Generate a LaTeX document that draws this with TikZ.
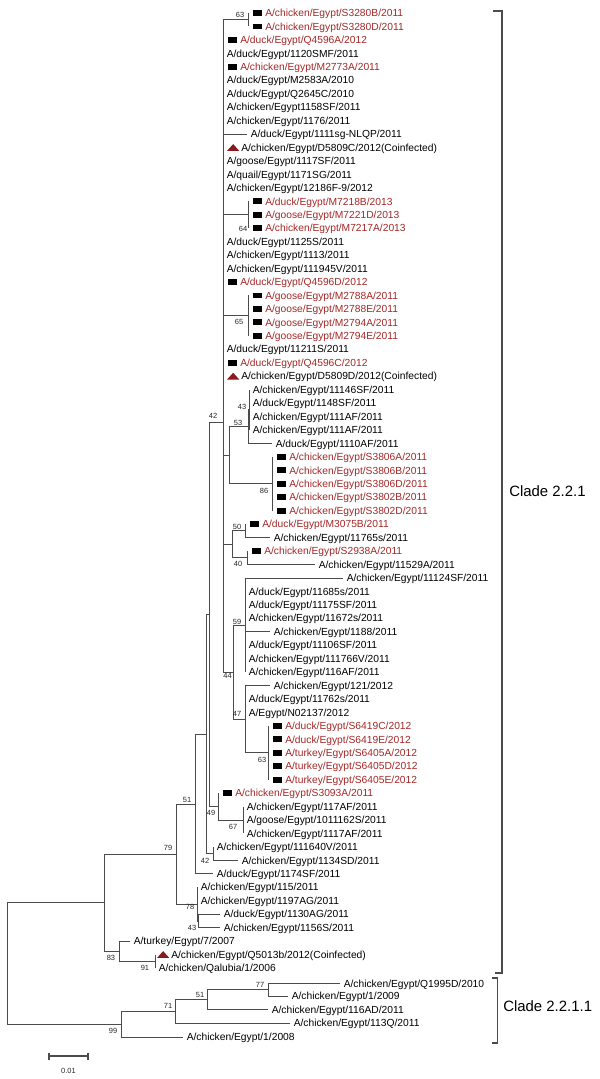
\documentclass[tikz,border=0pt]{standalone}
\usepackage{fontspec}
\setmainfont{Liberation Sans}
\definecolor{cRed}{RGB}{165,40,40}
\definecolor{cTri}{RGB}{140,25,30}
\definecolor{cLine}{RGB}{75,75,75}
\newcommand\lfont{\fontsize{7.7pt}{9pt}\selectfont}
\newcommand\bfontx{\fontsize{5.6pt}{6.5pt}\selectfont}
\newcommand\cfont{\fontsize{11.2pt}{13pt}\selectfont}
\newcommand\RY[1]{(13+13.45*(#1-1))}
% plain leaf
\newcommand\Lf[5]{\coordinate (e#2) at ({#4},{#3});
  \node[lf] (t#2) at ({#4+3.5},{#3+3.7}) {#5};
  \draw[br] (#1) |- (e#2);}
% red leaf with black square
\newcommand\Lr[5]{\coordinate (e#2) at ({#4},{#3});
  \node[sqm] (s#2) at ({#4+4.5},{#3}) {};
  \node[lf,text=cRed] (t#2) at ({#4+17},{#3+3.7}) {#5};
  \draw[br] (#1) |- (e#2);}
% leaf with red triangle
\newcommand\Lt[6]{\coordinate (e#2) at ({#4},{#3});
  \coordinate (m#2) at ({#4+#6},{#3});
  \fill[cTri,shift={(m#2)}] (0,3.4) -- (12.3,3.4) -- (6.15,-3.4) -- cycle;
  \node[lf] (t#2) at ({#4+#6+14},{#3+3.7}) {#5};
  \draw[br] (#1) |- (e#2);}
\begin{document}
\begin{tikzpicture}[x=0.75pt,y=-0.75pt,
  br/.style={draw=cLine,line width=0.6pt},
  bk/.style={draw=cLine,line width=1.1pt},
  lf/.style={anchor=base west,inner sep=0pt,font=\lfont},
  sqm/.style={anchor=west,fill=black,inner sep=0pt,minimum width=7pt,minimum height=4.3pt},
  bs/.style={inner sep=0pt,font=\bfontx,text=black!85},
  cl/.style={anchor=west,inner sep=0pt,font=\cfont}]
\fill[white] (0,0) rectangle (600,1079);
\useasboundingbox (0,0) rectangle (600,1079);
% internal nodes
\coordinate (R) at (7,963.5);
\coordinate (C) at (104,902.5);
\coordinate (N83) at (119,951);
\coordinate (N91) at (155,961.2);
\coordinate (N79) at (176,854);
\coordinate (N78) at (197,904);
\coordinate (N43b) at (198.5,920.9);
\coordinate (N51) at (195,804);
\coordinate (N205) at (206,734);
\coordinate (N42b) at (213,853.6);
\coordinate (N42u) at (209.5,614.3);
\coordinate (N49) at (218,806.5);
\coordinate (N67) at (243,820);
\coordinate (Q) at (223,422);
\coordinate (P1) at (223,237.5);
\coordinate (P2) at (223,608);
\coordinate (n63) at (248,19.7);
\coordinate (n64) at (248,214.75);
\coordinate (n65) at (248,315.6);
\coordinate (n229) at (229,455.2);
\coordinate (n53) at (248,426.6);
\coordinate (n43) at (249,409.8);
\coordinate (n86) at (272,483.75);
\coordinate (n5040) at (232,544.3);
\coordinate (n50) at (245,530.8);
\coordinate (n40) at (247,557.7);
\coordinate (n44) at (233,672);
\coordinate (n59) at (245,625);
\coordinate (n47) at (245,719.1);
\coordinate (n63b) at (268,752.75);
\coordinate (N99) at (121,1024.2);
\coordinate (N71) at (175,1011.4);
\coordinate (N51b) at (207,999.8);
\coordinate (N77) at (268,989.8);
% backbone
\draw[br] (R) |- (C); \draw[br] (R) |- (N99);
\draw[br] (C) |- (N79); \draw[br] (C) |- (N83);
\draw[br] (N83) |- (N91);
\draw[br] (N79) |- (N51); \draw[br] (N79) |- (N78);
\draw[br] (N78) |- (N43b);
\draw[br] (N51) |- (N205);
\draw[br] (N205) |- (N42u); \draw[br] (N205) |- (N42b);
\draw[br] (N42u) |- (Q); \draw[br] (N42u) |- (N49);
\draw[br] (N49) |- (N67);
\draw[br] (Q) |- (P1); \draw[br] (Q) |- (P2);
\draw[br] (P1) |- (n63); \draw[br] (P1) |- (n64); \draw[br] (P1) |- (n65);
\draw[br] (P1) |- (n229);
\draw[br] (n229) |- (n53); \draw[br] (n53) |- (n43); \draw[br] (n229) |- (n86);
\draw[br] (P2) |- (n5040); \draw[br] (n5040) |- (n50); \draw[br] (n5040) |- (n40);
\draw[br] (P2) |- (n44); \draw[br] (n44) |- (n59); \draw[br] (n44) |- (n47);
\draw[br] (n47) |- (n63b);
\draw[br] (N99) |- (N71); \draw[br] (N71) |- (N51b); \draw[br] (N51b) |- (N77);
% leaves
\Lr{n63}{1}{\RY{1}}{248}{A/chicken/Egypt/S3280B/2011}
\Lr{n63}{2}{\RY{2}}{248}{A/chicken/Egypt/S3280D/2011}
\Lr{P1}{3}{\RY{3}}{223}{A/duck/Egypt/Q4596A/2012}
\Lf{P1}{4}{\RY{4}}{223}{A/duck/Egypt/1120SMF/2011}
\Lr{P1}{5}{\RY{5}}{223}{A/chicken/Egypt/M2773A/2011}
\Lf{P1}{6}{\RY{6}}{223}{A/duck/Egypt/M2583A/2010}
\Lf{P1}{7}{\RY{7}}{223}{A/duck/Egypt/Q2645C/2010}
\Lf{P1}{8}{\RY{8}}{223}{A/chicken/Egypt1158SF/2011}
\Lf{P1}{9}{\RY{9}}{223}{A/chicken/Egypt/1176/2011}
\Lf{P1}{10}{\RY{10}}{247}{A/duck/Egypt/1111sg-NLQP/2011}
\Lt{P1}{11}{\RY{11}}{223}{A/chicken/Egypt/D5809C/2012(Coinfected)}{4}
\Lf{P1}{12}{\RY{12}}{223}{A/goose/Egypt/1117SF/2011}
\Lf{P1}{13}{\RY{13}}{223}{A/quail/Egypt/1171SG/2011}
\Lf{P1}{14}{\RY{14}}{223}{A/chicken/Egypt/12186F-9/2012}
\Lr{n64}{15}{\RY{15}}{248}{A/duck/Egypt/M7218B/2013}
\Lr{n64}{16}{\RY{16}}{248}{A/goose/Egypt/M7221D/2013}
\Lr{n64}{17}{\RY{17}}{248}{A/chicken/Egypt/M7217A/2013}
\Lf{P1}{18}{\RY{18}}{223}{A/duck/Egypt/1125S/2011}
\Lf{P1}{19}{\RY{19}}{223}{A/chicken/Egypt/1113/2011}
\Lf{P1}{20}{\RY{20}}{223}{A/chicken/Egypt/111945V/2011}
\Lr{P1}{21}{\RY{21}}{223}{A/duck/Egypt/Q4596D/2012}
\Lr{n65}{22}{\RY{22}}{248}{A/goose/Egypt/M2788A/2011}
\Lr{n65}{23}{\RY{23}}{248}{A/goose/Egypt/M2788E/2011}
\Lr{n65}{24}{\RY{24}}{248}{A/goose/Egypt/M2794A/2011}
\Lr{n65}{25}{\RY{25}}{248}{A/goose/Egypt/M2794E/2011}
\Lf{P1}{26}{\RY{26}}{223}{A/duck/Egypt/11211S/2011}
\Lr{P1}{27}{\RY{27}}{223}{A/duck/Egypt/Q4596C/2012}
\Lt{P1}{28}{\RY{28}}{223}{A/chicken/Egypt/D5809D/2012(Coinfected)}{4}
\Lf{n43}{29}{\RY{29}}{249}{A/chicken/Egypt/11146SF/2011}
\Lf{n43}{30}{\RY{30}}{249}{A/duck/Egypt/1148SF/2011}
\Lf{n43}{31}{\RY{31}}{249}{A/chicken/Egypt/111AF/2011}
\Lf{n43}{32}{\RY{32}}{249}{A/chicken/Egypt/111AF/2011}
\Lf{n53}{33}{\RY{33}}{272}{A/duck/Egypt/1110AF/2011}
\Lr{n86}{34}{\RY{34}}{272}{A/chicken/Egypt/S3806A/2011}
\Lr{n86}{35}{\RY{35}}{272}{A/chicken/Egypt/S3806B/2011}
\Lr{n86}{36}{\RY{36}}{272}{A/chicken/Egypt/S3806D/2011}
\Lr{n86}{37}{\RY{37}}{272}{A/chicken/Egypt/S3802B/2011}
\Lr{n86}{38}{\RY{38}}{272}{A/chicken/Egypt/S3802D/2011}
\Lr{n50}{39}{\RY{39}}{245}{A/duck/Egypt/M3075B/2011}
\Lf{n50}{40}{\RY{40}}{270}{A/chicken/Egypt/11765s/2011}
\Lr{n40}{41}{\RY{41}}{247}{A/chicken/Egypt/S2938A/2011}
\Lf{n40}{42}{\RY{42}}{315}{A/chicken/Egypt/11529A/2011}
\Lf{n59}{43}{\RY{43}}{343}{A/chicken/Egypt/11124SF/2011}
\Lf{n59}{44}{\RY{44}}{245}{A/duck/Egypt/11685s/2011}
\Lf{n59}{45}{\RY{45}}{245}{A/duck/Egypt/11175SF/2011}
\Lf{n59}{46}{\RY{46}}{245}{A/chicken/Egypt/11672s/2011}
\Lf{n59}{47}{\RY{47}}{270}{A/chicken/Egypt/1188/2011}
\Lf{n59}{48}{\RY{48}}{245}{A/duck/Egypt/11106SF/2011}
\Lf{n59}{49}{\RY{49}}{245}{A/chicken/Egypt/111766V/2011}
\Lf{n59}{50}{\RY{50}}{245}{A/chicken/Egypt/116AF/2011}
\Lf{n47}{51}{\RY{51}}{270}{A/chicken/Egypt/121/2012}
\Lf{n47}{52}{\RY{52}}{245}{A/duck/Egypt/11762s/2011}
\Lf{n47}{53}{\RY{53}}{245}{A/Egypt/N02137/2012}
\Lr{n63b}{54}{\RY{54}}{268}{A/duck/Egypt/S6419C/2012}
\Lr{n63b}{55}{\RY{55}}{268}{A/duck/Egypt/S6419E/2012}
\Lr{n63b}{56}{\RY{56}}{268}{A/turkey/Egypt/S6405A/2012}
\Lr{n63b}{57}{\RY{57}}{268}{A/turkey/Egypt/S6405D/2012}
\Lr{n63b}{58}{\RY{58}}{268}{A/turkey/Egypt/S6405E/2012}
\Lr{N49}{59}{\RY{59}}{218}{A/chicken/Egypt/S3093A/2011}
\Lf{N67}{60}{\RY{60}}{243}{A/chicken/Egypt/117AF/2011}
\Lf{N67}{61}{\RY{61}}{243}{A/goose/Egypt/1011162S/2011}
\Lf{N67}{62}{\RY{62}}{243}{A/chicken/Egypt/1117AF/2011}
\Lf{N42b}{63}{\RY{63}}{213}{A/chicken/Egypt/111640V/2011}
\Lf{N42b}{64}{\RY{64}}{238}{A/chicken/Egypt/1134SD/2011}
\Lf{N51}{65}{\RY{65}}{213}{A/duck/Egypt/1174SF/2011}
\Lf{N78}{66}{\RY{66}}{197}{A/chicken/Egypt/115/2011}
\Lf{N78}{67}{\RY{67}}{197}{A/chicken/Egypt/1197AG/2011}
\Lf{N43b}{68}{\RY{68}}{220}{A/duck/Egypt/1130AG/2011}
\Lf{N43b}{69}{\RY{69}}{220}{A/chicken/Egypt/1156S/2011}
\Lf{N83}{70}{\RY{70}}{130}{A/turkey/Egypt/7/2007}
\Lt{N91}{71}{\RY{71}}{155}{A/chicken/Egypt/Q5013b/2012(Coinfected)}{2}
\Lf{N91}{72}{\RY{72}}{155}{A/chicken/Qalubia/1/2006}
\Lf{N77}{73}{983.5}{340}{A/chicken/Egypt/Q1995D/2010}
\Lf{N77}{74}{996}{288}{A/chicken/Egypt/1/2009}
\Lf{N51b}{75}{1009.5}{268}{A/chicken/Egypt/116AD/2011}
\Lf{N71}{76}{1023}{290}{A/chicken/Egypt/113Q/2011}
\Lf{N99}{77}{1037}{183}{A/chicken/Egypt/1/2008}
% bootstrap values
\node[bs] (b1) at (240,15) {63};
\node[bs] (b2) at (243,229) {64};
\node[bs] (b3) at (239,322) {65};
\node[bs] (b4) at (242,407) {43};
\node[bs] (b5) at (238,423) {53};
\node[bs] (b6) at (213,416) {42};
\node[bs] (b7) at (264,491) {86};
\node[bs] (b8) at (237,527) {50};
\node[bs] (b9) at (238,564) {40};
\node[bs] (b10) at (237,622) {59};
\node[bs] (b11) at (227.5,676) {44};
\node[bs] (b12) at (237,714) {47};
\node[bs] (b13) at (262,760) {63};
\node[bs] (b14) at (211,813) {49};
\node[bs] (b15) at (233,827) {67};
\node[bs] (b16) at (205,861) {42};
\node[bs] (b17) at (187,800) {51};
\node[bs] (b18) at (168,848) {79};
\node[bs] (b19) at (190,907) {78};
\node[bs] (b20) at (192,928) {43};
\node[bs] (b21) at (111,958) {83};
\node[bs] (b22) at (145,968) {91};
\node[bs] (b23) at (113,1031) {99};
\node[bs] (b24) at (168,1006) {71};
\node[bs] (b25) at (200,995) {51};
\node[bs] (b26) at (260,985) {77};
% clade brackets
\coordinate (k1a) at (493,11); \coordinate (k1b) at (502,11);
\coordinate (k1c) at (502,973); \coordinate (k1d) at (495,973);
\draw[bk] (k1a) -- (k1b) -- (k1c) -- (k1d);
\node[cl] (c1) at (509,491) {Clade 2.2.1};
\coordinate (k2a) at (492,978); \coordinate (k2b) at (497.5,978);
\coordinate (k2c) at (497.5,1043); \coordinate (k2d) at (492,1043);
\draw[bk] (k2a) -- (k2b) -- (k2c) -- (k2d);
\node[cl] (c2) at (503,1006) {Clade 2.2.1.1};
% scale bar
\coordinate (sb1) at (49,1056); \coordinate (sb2) at (88,1056);
\draw[br,line width=0.8pt] (sb1) -- (sb2);
\draw[br,line width=0.8pt] (sb1) ++(0,-3.5) -- ++(0,7);
\draw[br,line width=0.8pt] (sb2) ++(0,-3.5) -- ++(0,7);
\node[bs] (sbl) at (68.5,1071) {0.01};
\end{tikzpicture}
\end{document}
